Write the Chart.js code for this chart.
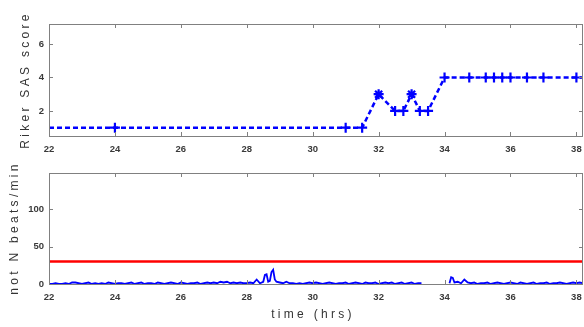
<!DOCTYPE html>
<html><head><meta charset="utf-8">
<script src="https://cdn.jsdelivr.net/npm/chart.js@4/dist/chart.umd.min.js"></script>
<style>
html,body{margin:0;padding:0;background:#fff;width:584px;height:327px;overflow:hidden}
#c1{position:absolute;left:0;top:0}
#c2{position:absolute;left:0;top:160px}
</style></head><body>
<canvas id="c1" width="584" height="160"></canvas>
<canvas id="c2" width="584" height="167"></canvas>
<script>
// ---- data ----
const xTicks = [22,24,26,28,30,32,34,36,38];
const sasTicks = [2,4,6];
const beatTicks = [0,50,100];
const sasTimes  = [22, 24, 31, 31.5, 32, 32.5, 32.75, 33, 33.25, 33.5, 34, 34.75, 35.25, 35.5, 35.75, 36, 36.5, 37, 38, 38.2];
const sasScores = [1,  1,  1,  1,    3,  2,    2,     3,  2,     2,    4,  4,     4,     4,    4,     4,  4,    4,  4,  4];
const sasMarkers = ['none','cross','cross','cross','star','cross','cross','star','cross','cross','cross','cross','cross','cross','cross','cross','cross','cross','cross','none'];
const beatTimes = [
22.0,22.1,22.2,22.3,22.4,22.5,22.6,22.7,22.8,22.9,23.0,23.1,23.2,23.3,23.4,23.5,23.6,23.7,23.8,23.9,
24.0,24.1,24.2,24.3,24.4,24.5,24.6,24.7,24.8,24.9,25.0,25.1,25.2,25.3,25.4,25.5,25.6,25.7,25.8,25.9,
26.0,26.1,26.2,26.3,26.4,26.5,26.6,26.7,26.8,26.9,27.0,27.1,27.2,27.3,27.4,27.5,27.6,27.7,27.8,27.9,
28.0,28.1,28.2,28.3,28.4,28.5,28.55,28.6,28.65,28.7,28.75,28.8,28.85,28.9,29.0,29.1,29.2,29.3,29.4,29.5,29.6,29.7,29.8,29.9,
30.0,30.1,30.2,30.3,30.4,30.5,30.6,30.7,30.8,30.9,31.0,31.1,31.2,31.3,31.4,31.5,31.6,31.7,31.8,31.9,
32.0,32.1,32.2,32.3,32.4,32.5,32.6,32.7,32.8,32.9,33.0,33.1,33.2,33.3,33.4,
34.15,34.2,34.25,34.3,34.4,34.5,34.6,34.7,34.8,34.9,35.0,35.1,35.2,35.3,35.4,35.5,35.6,35.7,35.8,35.9,
36.0,36.1,36.2,36.3,36.4,36.5,36.6,36.7,36.8,36.9,37.0,37.1,37.2,37.3,37.4,37.5,37.6,37.7,37.8,37.9,
38.0,38.1,38.2];
const beatValues = [
0,0,1,0,0,1,0,2,2,1,0,1,2,0,1,0,1,0,2,1,
0,1,1,0,1,2,0,1,2,0,1,1,0,2,1,0,1,2,1,0,
2,1,0,1,1,2,0,1,2,1,2,1,3,2,3,1,2,1,2,1,
1,2,1,6,1,3,12,13,3,4,16,19,6,3,2,1,3,1,1,0,1,0,1,2,
1,2,1,0,1,2,1,0,1,1,2,0,1,2,1,0,2,1,1,2,
0,1,2,1,2,0,1,2,0,1,2,0,1,1,null,
1,9,8,2,3,1,6,2,1,2,0,1,1,2,0,1,2,1,0,1,
2,1,0,2,1,0,1,2,0,1,1,2,0,1,1,2,1,0,1,2,
1,2,1];
const thresholdTimes = [22, 38.2];
const thresholdValues = [30, 30];

const axisColor = '#808080';
const tickFont = {family:'Liberation Sans, Arial, sans-serif', size:9.5, weight:'bold'};
const tickColor = '#3a3a3a';

const boxPlugin = {
  id:'box',
  afterDraw(chart, args, opts){
    const {ctx, chartArea:a} = chart;
    ctx.save();
    ctx.strokeStyle = axisColor; ctx.lineWidth = 1;
    ctx.strokeRect(Math.round(a.left)+0.5, Math.round(a.top)+0.5, Math.round(a.right-a.left)-1, Math.round(a.bottom-a.top));
    const xs = chart.scales.x, ys = chart.scales.y;
    ctx.beginPath();
    xs.ticks.forEach(t=>{
      const p = Math.round(xs.getPixelForValue(t.value))+0.5;
      ctx.moveTo(p,a.bottom); ctx.lineTo(p,a.bottom-4);
      ctx.moveTo(p,a.top); ctx.lineTo(p,a.top+4);
    });
    ys.ticks.forEach(t=>{
      const p = Math.round(ys.getPixelForValue(t.value))+0.5;
      ctx.moveTo(a.left,p); ctx.lineTo(a.left+4,p);
      ctx.moveTo(a.right,p); ctx.lineTo(a.right-4,p);
    });
    ctx.stroke();
    // titles
    ctx.fillStyle = '#333';
    ctx.font = '12px Liberation Sans, Arial, sans-serif';
    try { ctx.letterSpacing = '3.3px'; } catch(e){}
    ctx.textAlign = 'center'; ctx.textBaseline = 'middle';
    if (opts.yTitle){
      ctx.save();
      ctx.translate(opts.yTitleX, opts.yTitleY);
      ctx.rotate(-Math.PI/2);
      ctx.fillText(opts.yTitle, 0, 0);
      ctx.restore();
    }
    if (opts.xTitle){
      ctx.fillText(opts.xTitle, opts.xTitleX, opts.xTitleY);
    }
    ctx.restore();
  }
};

function xScale(h){
  return {type:'linear', min:22, max:38.2,
    afterBuildTicks(s){ s.ticks = xTicks.map(v=>({value:v})); },
    afterFit(s){ s.height = h; s.paddingLeft = 0; s.paddingRight = 0; },
    grid:{display:false, drawTicks:false}, border:{display:false},
    ticks:{font:tickFont, color:tickColor, padding:8, maxRotation:0, autoSkip:false}};
}
function yScale(min,max,ticks){
  return {type:'linear', min, max,
    afterBuildTicks(s){ s.ticks = ticks.map(v=>({value:v})); },
    afterFit(s){ s.width = 49; s.paddingTop = 0; s.paddingBottom = 0; },
    grid:{display:false, drawTicks:false}, border:{display:false},
    ticks:{font:tickFont, color:tickColor, padding:5}};
}

new Chart(document.getElementById('c1'), {
  type:'line',
  data:{datasets:[{
    data: sasTimes.map((t,i)=>({x:t, y:sasScores[i]})),
    borderColor:'#0000ff', borderWidth:2.5, borderDash:[5,3],
    pointStyle: sasMarkers.map(m=>m==='none'?'cross':m),
    pointRadius: sasMarkers.map(m=>m==='none'?0:5),
    pointBorderColor:'#0000ff', pointBorderWidth:2.2, pointBackgroundColor:'#0000ff',
    tension:0
  }]},
  options:{responsive:false, animation:false,
    layout:{padding:{left:0,right:1,top:24,bottom:0}},
    plugins:{legend:{display:false}, tooltip:{enabled:false},
      box:{yTitle:'Riker SAS score', yTitleX:26, yTitleY:80}},
    scales:{x:xScale(24), y:yScale(0.5,7.2,sasTicks)}
  },
  plugins:[boxPlugin]
});

new Chart(document.getElementById('c2'), {
  type:'line',
  data:{datasets:[
    {data: thresholdTimes.map((t,i)=>({x:t,y:thresholdValues[i]})), borderColor:'#ff0000', borderWidth:2.5, pointRadius:0},
    {data: beatTimes.map((t,i)=>({x:t,y:beatValues[i]})), borderColor:'#0000ff', borderWidth:1.8, pointRadius:0, spanGaps:false, tension:0}
  ]},
  options:{responsive:false, animation:false,
    layout:{padding:{left:0,right:1,top:13,bottom:0}},
    plugins:{legend:{display:false}, tooltip:{enabled:false},
      box:{yTitle:'not N beats/min', yTitleX:15, yTitleY:68, xTitle:'time (hrs)', xTitleX:313, xTitleY:155}},
    scales:{x:xScale(43), y:yScale(0,148,beatTicks)}
  },
  plugins:[boxPlugin]
});
</script>
</body></html>
